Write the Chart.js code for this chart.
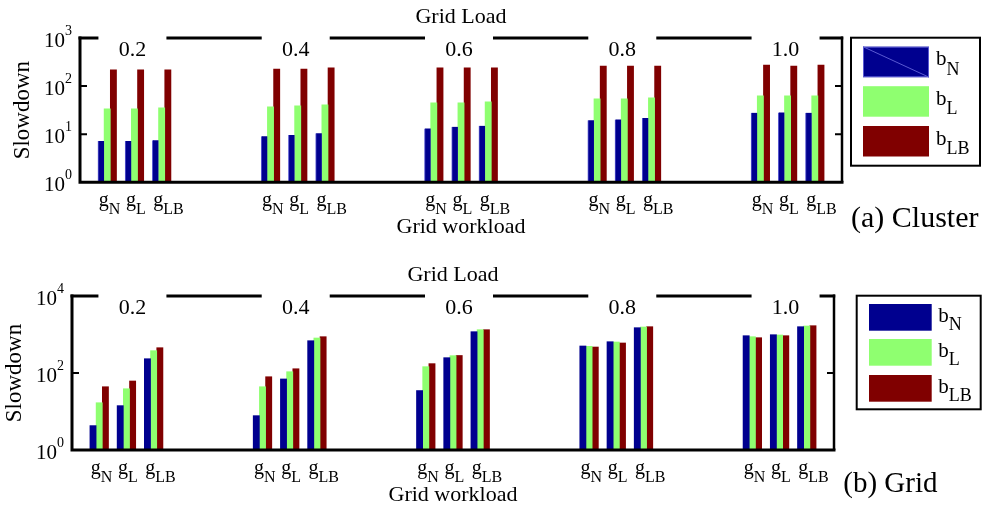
<!DOCTYPE html>
<html><head><meta charset="utf-8">
<script src="https://cdn.jsdelivr.net/npm/chart.js@4.4.1/dist/chart.umd.min.js"></script>
<style>
html,body{margin:0;padding:0;background:#fff;}
#wrap{position:relative;width:990px;height:505px;background:#fff;}
canvas{position:absolute;left:0;}
</style></head><body>
<div id="wrap">
<canvas id="c1" width="990" height="250" style="top:0"></canvas>
<canvas id="c2" width="990" height="255" style="top:250px"></canvas>
</div>
<script>
// ---- data ----
const loads = ['0.2', '0.4', '0.6', '0.8', '1.0'];
const workloadLabels = [['g', 'N'], ['g', 'L'], ['g', 'LB']];
const seriesNames = [['b', 'N'], ['b', 'L'], ['b', 'LB']];
const clusterTicks = [1, 10, 100, 1000];
const gridTicks = [1, 100, 10000];

// (a) Cluster  – 15 values each: load 0.2 (gN,gL,gLB), 0.4 (...), ...
const clusterBN  = [7.2, 7.2, 7.5,   9.1, 9.6, 10.5,   13.2, 14.2, 14.9,   19.6, 20.3, 21.6,   27.8, 28.4, 27.8];
const clusterBL  = [33.6, 33.6, 35.3, 37, 38.8, 40.7,   44.8, 44.8, 47,     54.2, 54.2, 56.9,   62.6, 62.6, 62.6];
const clusterBLB = [217, 217, 217,   227, 227, 239,    239, 239, 239,     262, 262, 262,      275, 262, 275];

// (b) Grid
const gridBN  = [4.3, 14.2, 235,   7.8, 70, 690,    35, 250, 1183,   503, 650, 1503,   931, 988, 1595];
const gridBL  = [16.9, 39, 380,    44, 108, 811,    146, 282, 1333,  493, 638, 1566,   877, 970, 1663];
const gridBLB = [44, 62, 454,      80, 129, 877,    175, 285, 1333,  473, 602, 1595,   826, 931, 1693];

const colors = ['#00008f', '#8fff70', '#800000'];
const SERIF = "'Liberation Serif', 'Times New Roman', serif";

function drawSub(ctx, main, sub, x, y, mainSize, subSize, subDrop, align) {
  ctx.font = mainSize + 'px ' + SERIF;
  const w1 = ctx.measureText(main).width;
  ctx.font = subSize + 'px ' + SERIF;
  const w2 = ctx.measureText(sub).width;
  let x0 = x;
  if (align === 'center') x0 = x - (w1 + w2) / 2;
  ctx.textAlign = 'left';
  ctx.textBaseline = 'alphabetic';
  ctx.font = mainSize + 'px ' + SERIF;
  ctx.fillText(main, x0, y);
  ctx.font = subSize + 'px ' + SERIF;
  ctx.fillText(sub, x0 + w1, y + subDrop);
}

function makeChart(id, vals, cfg) {
  const datasets = vals.map((arr, s) => ({
    label: seriesNames[s].join(''),
    data: arr.map((v, i) => ({ x: Math.floor(i / 3) * 6 + (i % 3) + 1, y: v })),
    backgroundColor: colors[s],
    borderColor: (cfg.blueEdge && s === 0) ? '#5a5ad2' : colors[s],
    borderWidth: (cfg.blueEdge && s === 0) ? { left: 1, right: 0, top: 0, bottom: 0 } : 0,
    borderSkipped: false,
    barThickness: 6.2
  }));

  const deco = {
    id: 'deco_' + id,
    afterDatasetsDraw(chart) {
      const ctx = chart.ctx, xs = chart.scales.x, ys = chart.scales.y, a = chart.chartArea;
      ctx.save();
      ctx.fillStyle = '#000';
      ctx.strokeStyle = '#000';
      ctx.lineCap = 'butt';

      // left + bottom axis
      ctx.lineWidth = 3;
      ctx.beginPath();
      ctx.moveTo(a.left, a.top - 1.5);
      ctx.lineTo(a.left, a.bottom);
      ctx.lineTo(a.right + 1.5, a.bottom);
      ctx.stroke();
      // right axis
      ctx.lineWidth = 2.5;
      ctx.beginPath();
      ctx.moveTo(a.right, a.top - 1.5);
      ctx.lineTo(a.right, a.bottom);
      ctx.stroke();

      // y ticks (inward, both sides)
      ctx.lineWidth = 2;
      cfg.ticks.forEach(t => {
        if (t === cfg.ticks[0] || t === cfg.ticks[cfg.ticks.length - 1]) return;
        const py = ys.getPixelForValue(t);
        ctx.beginPath();
        ctx.moveTo(a.left, py); ctx.lineTo(a.left + 7, py);
        ctx.moveTo(a.right, py); ctx.lineTo(a.right - 7, py);
        ctx.stroke();
      });

      // top broken line with group labels
      const centers = loads.map((l, g) => xs.getPixelForValue(g * 6 + 2) + cfg.labelShift);
      const half = 34;
      ctx.lineWidth = 3;
      ctx.beginPath();
      let start = a.left - 1.5;
      centers.forEach(c => {
        ctx.moveTo(start, a.top);
        ctx.lineTo(c - half, a.top);
        start = c + half;
      });
      ctx.moveTo(start, a.top);
      ctx.lineTo(a.right + 1.25, a.top);
      ctx.stroke();

      ctx.font = '22px ' + SERIF;
      ctx.textAlign = 'center';
      ctx.textBaseline = 'alphabetic';
      loads.forEach((l, g) => ctx.fillText(l, centers[g], a.top + 17.5));

      // "Grid Load"
      const mid = (a.left + a.right) / 2;
      ctx.fillText('Grid Load', mid, a.top - 15.3);
      // "Grid workload"
      ctx.fillText('Grid workload', mid, a.bottom + 51);

      // y tick labels 10^k
      cfg.ticks.forEach(t => {
        const py = ys.getPixelForValue(t);
        const e = String(Math.round(Math.log10(t)));
        ctx.font = '14px ' + SERIF;
        const ws = ctx.measureText(e).width;
        ctx.font = '21px ' + SERIF;
        const wm = ctx.measureText('10').width;
        const xr = a.left - 8;
        ctx.textAlign = 'left';
        ctx.fillText('10', xr - ws - wm, py + 8.5);
        ctx.font = '14px ' + SERIF;
        ctx.fillText(e, xr - ws, py - 3);
      });

      // "Slowdown"
      ctx.save();
      ctx.translate(a.left - 57, (a.top + a.bottom) / 2);
      ctx.rotate(-Math.PI / 2);
      ctx.font = '23px ' + SERIF;
      ctx.textAlign = 'center';
      ctx.textBaseline = 'middle';
      ctx.fillText('Slowdown', 0, 0);
      ctx.restore();

      // x tick labels g_N g_L g_LB (left-aligned just left of each bar cluster)
      loads.forEach((l, g) => {
        workloadLabels.forEach((wl, w) => {
          const px = xs.getPixelForValue(g * 6 + w + 1) - 8.5;
          drawSub(ctx, wl[0], wl[1], px, a.bottom + 24, 20, 16, 8, 'left');
        });
      });

      // legend
      const L = cfg.legend;
      ctx.lineWidth = 2;
      ctx.strokeRect(L.x, L.y, L.w, L.h);
      seriesNames.forEach((sn, s) => {
        const sy = L.sy[s];
        ctx.fillStyle = colors[s];
        ctx.fillRect(L.sx, sy, L.sw, L.sh);
        if (cfg.blueEdge && s === 0) {
          ctx.strokeStyle = '#5a5ad2';
          ctx.lineWidth = 1;
          ctx.strokeRect(L.sx + 0.5, sy + 0.5, L.sw - 1, L.sh - 1);
          ctx.beginPath();
          ctx.moveTo(L.sx, sy); ctx.lineTo(L.sx + L.sw, sy + L.sh);
          ctx.stroke();
          ctx.strokeStyle = '#000';
        }
        ctx.fillStyle = '#000';
        const cy = sy + L.sh / 2;
        drawSub(ctx, sn[0], sn[1], L.tx, cy + L.b1, 21, 18, L.b2 - L.b1, 'left');
      });

      // caption
      ctx.font = cfg.capSize + 'px ' + SERIF;
      ctx.textAlign = 'left';
      ctx.textBaseline = 'alphabetic';
      ctx.fillText(cfg.caption, cfg.capX, cfg.capY);

      ctx.restore();
    }
  };

  return new Chart(document.getElementById(id), {
    type: 'bar',
    data: { datasets },
    options: {
      responsive: false,
      animation: false,
      devicePixelRatio: 1,
      layout: { padding: cfg.pad },
      plugins: { legend: { display: false }, tooltip: { enabled: false } },
      scales: {
        x: { type: 'linear', min: 0, max: 28, offset: false, display: false },
        y: { type: 'logarithmic', min: cfg.ticks[0], max: cfg.ticks[cfg.ticks.length - 1], display: false }
      }
    },
    plugins: [deco]
  });
}

makeChart('c1', [clusterBN, clusterBL, clusterBLB], {
  pad: { left: 80, top: 38, right: 148, bottom: 67.7 },
  ticks: clusterTicks,
  labelShift: -2,
  blueEdge: true,
  legend: { x: 851, y: 37.7, w: 129, h: 128, sx: 863, sw: 66, sy: [46.7, 86.2, 126], sh: 30.5, tx: 936, b1: 3.5, b2: 13 },
  caption: '(a) Cluster', capX: 851, capY: 226.5, capSize: 30
});

makeChart('c2', [gridBN, gridBL, gridBLB], {
  pad: { left: 72, top: 46, right: 156, bottom: 55 },
  ticks: gridTicks,
  labelShift: 6,
  blueEdge: false,
  legend: { x: 856.7, y: 45.7, w: 124, h: 113.6, sx: 869, sw: 62.7, sy: [54, 89, 125], sh: 26.7, tx: 938.3, b1: 4.4, b2: 12.7 },
  caption: '(b) Grid', capX: 843.3, capY: 241.5, capSize: 29
});
</script>
</body></html>
